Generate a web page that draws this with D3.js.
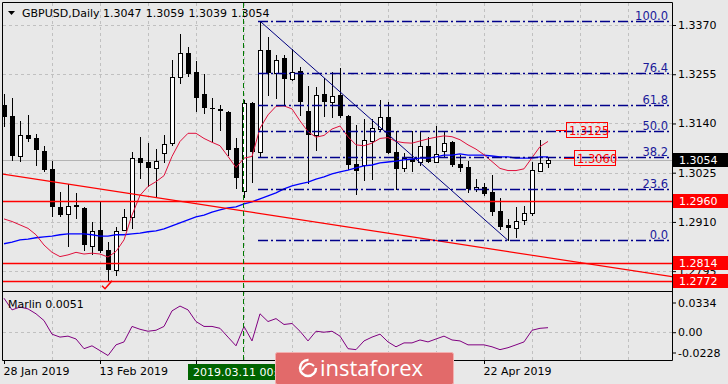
<!DOCTYPE html>
<html>
<head>
<meta charset="utf-8">
<script src="https://cdn.jsdelivr.net/npm/d3@7"></script>
<style>
body { margin: 0; background: #e8e8e8; }
svg { display: block; font-family: "DejaVu Sans", sans-serif; }
</style>
</head>
<body>
<svg id="chart" width="728" height="384"></svg>
<script>
// GBPUSD daily candles, 28 Jan 2019 .. 2 May 2019
var opens  = [1.3183,1.3158,1.3063,1.3113,1.3105,1.3076,1.3034,1.2945,1.2928,1.2950,
              1.2942,1.2854,1.2891,1.2845,1.2798,1.2891,1.2921,1.3059,1.3049,1.3035,
              1.3070,1.3094,1.3249,1.3304,1.3260,1.3208,1.3176,1.3173,1.3166,1.3082,
              1.2982,1.3187,1.3074,1.3312,1.3257,1.3292,1.3243,1.3263,1.3170,1.3112,
              1.3209,1.3189,1.3207,1.3158,1.3045,1.3042,1.3098,1.3126,1.3154,1.3074,
              1.3037,1.3057,1.3049,1.3087,1.3051,1.3076,1.3096,1.3045,1.3038,1.2986,
              1.2991,1.2980,1.2936,1.2902,1.2895,1.2914,1.2930,1.3029,1.3047];
var highs  = [1.3208,1.3200,1.3146,1.3160,1.3115,1.3088,1.3053,1.2981,1.2998,1.2977,
              1.2944,1.2909,1.2960,1.2864,1.2898,1.2940,1.3074,1.3108,1.3094,1.3080,
              1.3113,1.3288,1.3348,1.3319,1.3286,1.3255,1.3200,1.3183,1.3168,1.3107,
              1.3195,1.3189,1.3379,1.3341,1.3300,1.3300,1.3313,1.3272,1.3228,1.3226,
              1.3246,1.3261,1.3269,1.3160,1.3137,1.3150,1.3150,1.3195,1.3189,1.3123,
              1.3070,1.3122,1.3121,1.3108,1.3134,1.3119,1.3099,1.3067,1.3052,1.3010,
              1.3000,1.3019,1.2965,1.2917,1.2945,1.2948,1.3051,1.3102,1.3059];
var lows   = [1.3135,1.3055,1.3053,1.3098,1.3042,1.3028,1.2924,1.2924,1.2853,1.2920,
              1.2845,1.2835,1.2839,1.2775,1.2785,1.2890,1.2895,1.3012,1.2993,1.2969,
              1.3051,1.3090,1.3234,1.3252,1.3170,1.3165,1.3098,1.3125,1.3067,1.2990,
              1.2969,1.3004,1.3063,1.3207,1.3200,1.3183,1.3242,1.3160,1.3002,1.3078,
              1.3158,1.3156,1.3154,1.3034,1.2976,1.3008,1.3010,1.3125,1.3070,1.2986,
              1.3029,1.3029,1.3042,1.3049,1.3051,1.3064,1.3041,1.3028,1.2979,1.2982,
              1.2973,1.2926,1.2893,1.2867,1.2874,1.2905,1.2926,1.3028,1.3039];
var closes = [1.3156,1.3063,1.3113,1.3104,1.3077,1.3031,1.2946,1.2926,1.2948,1.2944,
              1.2855,1.2888,1.2841,1.2798,1.2888,1.2921,1.3059,1.3047,1.3037,1.3052,
              1.3091,1.3248,1.3304,1.3256,1.3200,1.3176,1.3174,1.3168,1.3078,1.3012,
              1.3187,1.3073,1.3312,1.3257,1.3288,1.3243,1.3261,1.3191,1.3112,1.3207,
              1.3189,1.3204,1.3158,1.3043,1.3030,1.3101,1.3129,1.3154,1.3072,1.3033,
              1.3059,1.3049,1.3087,1.3051,1.3068,1.3095,1.3043,1.3037,1.2986,1.2992,
              1.2976,1.2934,1.2899,1.2895,1.2912,1.2931,1.3031,1.3047,1.3054];

// moving averages
var maFast = [1.2917,1.2911,1.2903,1.2895,1.2880,1.2856,1.2839,1.2829,1.2833,1.2839,
              1.2835,1.2837,1.2835,1.2828,1.2841,1.2868,1.2926,1.2972,1.2993,1.3004,
              1.3018,1.3063,1.3098,1.3117,1.3117,1.3105,1.3096,1.3088,1.3063,1.3037,
              1.3059,1.3063,1.3129,1.3160,1.3180,1.3181,1.3174,1.3146,1.3121,1.3108,
              1.3112,1.3127,1.3134,1.3109,1.3090,1.3088,1.3094,1.3105,1.3107,1.3098,
              1.3095,1.3094,1.3099,1.3104,1.3108,1.3111,1.3109,1.3102,1.3090,1.3080,
              1.3067,1.3051,1.3035,1.3030,1.3030,1.3034,1.3060,1.3086,1.3098];
var maSlow = [1.2859,1.2863,1.2868,1.2870,1.2873,1.2875,1.2877,1.2880,1.2882,1.2882,
              1.2882,1.2880,1.2877,1.2877,1.2880,1.2880,1.2882,1.2884,1.2887,1.2889,
              1.2894,1.2901,1.2908,1.2915,1.2922,1.2926,1.2933,1.2938,1.2943,1.2945,
              1.2952,1.2957,1.2964,1.2971,1.2978,1.2987,1.2994,1.2999,1.3003,1.3010,
              1.3015,1.3022,1.3027,1.3031,1.3036,1.3041,1.3043,1.3048,1.3050,1.3052,
              1.3055,1.3057,1.3059,1.3059,1.3062,1.3066,1.3066,1.3069,1.3066,1.3066,
              1.3066,1.3064,1.3062,1.3062,1.3059,1.3059,1.3059,1.3062,1.3062];

// Marlin oscillator
var marlin = [0.0382,0.0251,0.0283,0.0262,0.0207,0.0131,-0.0022,-0.0055,-0.0044,-0.0076,
              -0.0185,-0.0153,-0.0207,-0.0262,-0.0142,-0.0109,0.0065,0.0033,0.0011,0.0022,
              0.0065,0.0240,0.0294,0.0251,0.0120,0.0065,0.0065,0.0044,-0.0055,-0.0153,
              0.0065,-0.0098,0.0207,0.0120,0.0153,0.0087,0.0098,0.0011,-0.0098,0.0011,
              0.0000,0.0011,-0.0044,-0.0185,-0.0196,-0.0098,-0.0055,-0.0022,-0.0109,-0.0164,
              -0.0120,-0.0120,-0.0087,-0.0109,-0.0076,-0.0044,-0.0087,-0.0098,-0.0142,-0.0142,
              -0.0142,-0.0164,-0.0196,-0.0174,-0.0142,-0.0109,0.0022,0.0044,0.0051];

var priceTicks = [1.3370, 1.3255, 1.3140, 1.3025, 1.2910, 1.2795];
var marlinTicks = [0.0334, 0, -0.0228];
var marlinTickLabels = ["0.0334", "0.00", "-0.0228"];
// labels for 1 Mar, 19 Mar and 4 Apr sit under the date tag and the watermark
var dateTickIdx = [0, 12, 24, 36, 48, 60];
var dateTickLabels = ["28 Jan 2019", "13 Feb 2019", "", "", "", "22 Apr 2019"];
var fibLevels = [0, 23.6, 38.2, 50.0, 61.8, 76.4, 100.0];
var levels = [1.2960, 1.2814, 1.2772];
var targets = [1.3125, 1.3060];
var trendPts = [[0, 1.3022], [83.5, 1.2782]];
var lastPrice = 1.3054;
var header = ["1.3047", "1.3059", "1.3039", "1.3054"];

var plotLeft = 3, plotRight = 672, plotTop = 3, mainBottom = 291, indBottom = 360;

var x = d3.scaleLinear().domain([0, 83.5]).range([4, 672]);
var y = d3.scaleLinear().domain([1.2772, 1.3370]).range([281, 25]);
var yi = d3.scaleLinear().domain([-0.0228, 0.0334]).range([352.5, 302.5]);

var svg = d3.select("#chart");
var defs = svg.append("defs");
defs.append("clipPath").attr("id", "clipMain").append("rect")
    .attr("x", plotLeft).attr("y", plotTop).attr("width", plotRight - plotLeft).attr("height", mainBottom - plotTop);
defs.append("clipPath").attr("id", "clipInd").append("rect")
    .attr("x", plotLeft).attr("y", mainBottom + 1).attr("width", plotRight - plotLeft).attr("height", indBottom - mainBottom - 1);

svg.append("rect").attr("width", 728).attr("height", 384).attr("fill", "#e8e8e8");

var main_g = svg.append("g").attr("clip-path", "url(#clipMain)");
var ind_g = svg.append("g").attr("clip-path", "url(#clipInd)");

// Grid.
var gridIdx = d3.range(6, 84, 6);
[main_g, ind_g].forEach(function(g) {
    g.selectAll(".vgrid").data(gridIdx).enter().append("line")
        .attr("x1", function(d) { return Math.round(x(d)) + 0.5; })
        .attr("x2", function(d) { return Math.round(x(d)) + 0.5; })
        .attr("y1", plotTop).attr("y2", indBottom)
        .attr("stroke", "#c0c0c0").attr("stroke-dasharray", "3,3");
});
main_g.selectAll(".hgrid").data(priceTicks).enter().append("line")
    .attr("x1", plotLeft).attr("x2", plotRight)
    .attr("y1", function(d) { return Math.round(y(d)) + 0.5; })
    .attr("y2", function(d) { return Math.round(y(d)) + 0.5; })
    .attr("stroke", "#c0c0c0").attr("stroke-dasharray", "3,3");
ind_g.append("line")
    .attr("x1", plotLeft).attr("x2", plotRight)
    .attr("y1", Math.round(yi(0)) + 0.5).attr("y2", Math.round(yi(0)) + 0.5)
    .attr("stroke", "#c0c0c0").attr("stroke-dasharray", "3,3");

// Bid line.
main_g.append("line")
    .attr("x1", plotLeft).attr("x2", plotRight)
    .attr("y1", Math.round(y(lastPrice)) + 0.5).attr("y2", Math.round(y(lastPrice)) + 0.5)
    .attr("stroke", "#b4b4b4");

// Candles.
var idx = d3.range(opens.length);
idx.forEach(function(i) {
    var cx = Math.round(x(i));
    main_g.append("line")
        .attr("x1", cx + 0.5).attr("x2", cx + 0.5)
        .attr("y1", Math.round(y(highs[i]))).attr("y2", Math.round(y(lows[i])) + 1)
        .attr("stroke", "#000");
    var yt = Math.round(y(Math.max(opens[i], closes[i])));
    var yb = Math.round(y(Math.min(opens[i], closes[i])));
    if (closes[i] > opens[i]) {
        main_g.append("rect")
            .attr("x", cx - 1.5).attr("y", yt + 0.5)
            .attr("width", 4).attr("height", Math.max(1, yb - yt))
            .attr("fill", "#fff").attr("stroke", "#000");
    } else {
        main_g.append("rect")
            .attr("x", cx - 2).attr("y", yt)
            .attr("width", 5).attr("height", Math.max(1, yb - yt))
            .attr("fill", "#000");
    }
});

// Moving averages.
var maLine = function(arr) {
    return d3.line().x(function(d, i) { return x(i); }).y(function(d) { return y(d); })(arr);
};
main_g.append("path").attr("d", maLine(maSlow))
    .attr("fill", "none").attr("stroke", "#0000ff").attr("stroke-width", 1.3);
main_g.append("path").attr("d", maLine(maFast))
    .attr("fill", "none").attr("stroke", "#e0103c").attr("stroke-width", 1);

// Horizontal levels and trend line.
main_g.selectAll(".lvl").data(levels).enter().append("line")
    .attr("x1", plotLeft).attr("x2", plotRight)
    .attr("y1", function(d) { return Math.round(y(d)) + 0.5; })
    .attr("y2", function(d) { return Math.round(y(d)) + 0.5; })
    .attr("stroke", "#ff0000").attr("stroke-width", 1.5);
main_g.append("line")
    .attr("x1", x(trendPts[0][0]) - 2).attr("y1", y(trendPts[0][1]))
    .attr("x2", x(trendPts[1][0])).attr("y2", y(trendPts[1][1]))
    .attr("stroke", "#ff0000").attr("stroke-width", 1.2);

// Fibonacci retracement from the March high to the April low.
var hiIdx = 32, loIdx = 63;
var fHigh = highs[hiIdx], fLow = lows[loIdx];
main_g.append("line")
    .attr("x1", x(hiIdx)).attr("y1", y(fHigh))
    .attr("x2", x(loIdx)).attr("y2", y(fLow))
    .attr("stroke", "#000080").attr("stroke-width", 1);
fibLevels.forEach(function(lv) {
    var py = Math.round(y(fLow + (fHigh - fLow) * lv / 100)) + 0.5;
    main_g.append("line")
        .attr("x1", x(hiIdx) - 2).attr("x2", plotRight)
        .attr("y1", py).attr("y2", py)
        .attr("stroke", "#00008b").attr("stroke-width", 1.3)
        .attr("stroke-dasharray", "10,3,2,3");
    main_g.append("text")
        .attr("x", 668).attr("y", py - 2)
        .attr("text-anchor", "end")
        .attr("font-size", "11.5px").attr("fill", "#1a1a9a")
        .text(d3.format(".1f")(lv));
});

// Target labels.
targets.forEach(function(p, k) {
    var bx = [566, 574][k];
    var py = Math.round(y(p));
    main_g.append("line")
        .attr("x1", bx - 10).attr("x2", bx)
        .attr("y1", py + 0.5).attr("y2", py + 0.5)
        .attr("stroke", "#ff0000");
    main_g.append("rect")
        .attr("x", bx + 0.5).attr("y", py - 7.5)
        .attr("width", 41).attr("height", 15)
        .attr("fill", "none").attr("stroke", "#ff0000");
    main_g.append("text")
        .attr("x", bx + 3).attr("y", py + 4.5)
        .attr("font-size", "11.5px").attr("fill", "#ff0000")
        .text(d3.format(".4f")(p));
});

// Check mark under the February low.
var ckx = x(13), cky = y(lows[13]);
main_g.append("path")
    .attr("d", "M" + (ckx - 6) + "," + (cky + 6) + " l3,3 l7,-8")
    .attr("fill", "none").attr("stroke", "#ff0000").attr("stroke-width", 1.5);

// Marlin.
ind_g.append("path")
    .attr("d", d3.line().x(function(d, i) { return x(i); }).y(function(d) { return yi(d); })(marlin))
    .attr("fill", "none").attr("stroke", "#800080").attr("stroke-width", 1);

// Vertical period separator.
svg.append("line")
    .attr("x1", Math.round(x(30)) - 0.5).attr("x2", Math.round(x(30)) - 0.5)
    .attr("y1", plotTop).attr("y2", indBottom)
    .attr("stroke", "#007a00").attr("stroke-dasharray", "5,3");

// Frames.
svg.append("path")
    .attr("d", "M" + (plotLeft - 0.5) + "," + (plotTop - 0.5) + "H" + (plotRight + 0.5) + "V" + (indBottom + 0.5) +
        "H" + (plotLeft - 0.5) + "Z M" + (plotLeft - 0.5) + "," + (mainBottom + 0.5) + "H" + (plotRight + 0.5))
    .attr("fill", "none").attr("stroke", "#000");

// Axes.
var styleAxis = function(g) {
    g.select(".domain").remove();
    g.selectAll("text").attr("font-size", "11px").attr("font-family", "DejaVu Sans").attr("fill", "#000");
    g.selectAll("line").attr("stroke", "#000");
};
svg.append("g").attr("transform", "translate(" + plotRight + ",0)")
    .call(d3.axisRight(y).tickValues(priceTicks).tickSize(4).tickPadding(2).tickFormat(d3.format(".4f")))
    .call(styleAxis);
svg.append("g").attr("transform", "translate(" + plotRight + ",0)")
    .call(d3.axisRight(yi).tickValues(marlinTicks).tickSize(4).tickPadding(2)
        .tickFormat(function(d, k) { return marlinTickLabels[k]; }))
    .call(styleAxis);
svg.append("g").attr("transform", "translate(0," + indBottom + ")")
    .call(d3.axisBottom(x).tickValues(dateTickIdx).tickSize(4).tickPadding(3)
        .tickFormat(function(d, k) { return dateTickLabels[k]; }))
    .call(styleAxis)
    .selectAll("text").attr("text-anchor", "start").attr("dx", "-1");

// Price tags on the axis.
var tag = function(p, fill) {
    var py = Math.round(y(p));
    svg.append("rect").attr("x", 673).attr("y", py - 7).attr("width", 55).attr("height", 14).attr("fill", fill);
    svg.append("text").attr("x", 679).attr("y", py + 4).attr("font-size", "11px").attr("fill", "#fff")
        .text(d3.format(".4f")(p));
};
tag(lastPrice, "#000");
levels.forEach(function(p) { tag(p, "#ff0000"); });

// Header.
svg.append("path").attr("d", "M8,11 L15,11 L11.5,15 Z").attr("fill", "#000");
svg.append("text").attr("x", 22).attr("y", 17).attr("font-size", "11px").text("GBPUSD,Daily");
header.forEach(function(t, k) {
    svg.append("text").attr("x", 103 + k * 42.7).attr("y", 17).attr("font-size", "11px").text(t);
});
svg.append("text").attr("x", 8).attr("y", 308).attr("font-size", "11px")
    .text("Marlin " + d3.format(".4f")(marlin[marlin.length - 1]));

// Selected date tag.
svg.append("rect").attr("x", 188).attr("y", 364).attr("width", 102).attr("height", 16).attr("fill", "#006400");
svg.append("text").attr("x", 193).attr("y", 376).attr("font-size", "11px").attr("fill", "#fff").text("2019.03.11 00:00");

// Watermark.
var logo = svg.append("g").attr("transform", "translate(275,352)");
logo.append("rect").attr("x", 0.5).attr("y", 0.5).attr("width", 178).attr("height", 32).attr("rx", 2)
    .attr("fill", "#e26a6a").attr("stroke", "#f3b0b0");
logo.append("circle").attr("cx", 33).attr("cy", 16).attr("r", 8)
    .attr("fill", "none").attr("stroke", "#fff").attr("stroke-width", 2.5)
    .attr("stroke-dasharray", "38,12");
logo.append("path").attr("d", "M27,18 Q33,8 39,14").attr("fill", "none").attr("stroke", "#fff").attr("stroke-width", 2);
logo.append("text").attr("x", 45).attr("y", 24).attr("font-size", "22px")
    .attr("font-family", "Open Sans").attr("fill", "#fff").text("instaforex");
</script>
</body>
</html>
